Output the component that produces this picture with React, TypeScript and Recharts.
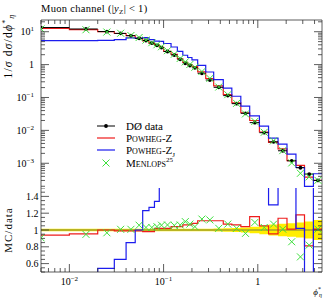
import React from "react";
import { ComposedChart, Line, Scatter, Area, XAxis, YAxis, ErrorBar, Legend } from "recharts";

const FONT = '"Liberation Serif", "DejaVu Serif", serif';
const AXIS = "#333";
const RED = "#ee1c1c";
const BLUE = "#1c1cee";
const GREEN = "#3de03d";

// phi*_eta bin edges (first bin starts at 0, last one runs to the frame)
const binEdges = [0, 0.01, 0.02, 0.03, 0.04, 0.05, 0.06, 0.07, 0.08, 0.09, 0.1,
  0.12, 0.14, 0.16, 0.18, 0.2, 0.23, 0.28, 0.34, 0.43, 0.53, 0.66, 0.82, 1.04,
  1.3, 1.64, 2.04, 2.54, 3.13, 3.89, 4.8];

// 1/sigma dsigma/dphi*, D0 data
const d0Data = [13.4, 12.1, 10.1, 8.9, 7.6, 6.3, 5.4, 4.5, 3.86, 3.3, 2.5, 1.96,
  1.45, 1.1, 0.94, 0.8, 0.544, 0.34, 0.204, 0.114, 0.065, 0.033, 0.0172, 0.0085,
  0.0045, 0.0024, 0.00119, 0.00073, 0.00047, 0.0003];
const d0RelErr = [0.015, 0.015, 0.015, 0.015, 0.015, 0.015, 0.015, 0.015, 0.015,
  0.015, 0.015, 0.015, 0.015, 0.015, 0.015, 0.015, 0.015, 0.015, 0.018, 0.02,
  0.025, 0.03, 0.04, 0.05, 0.065, 0.075, 0.08, 0.09, 0.1, 0.12];

// MC / data
const powhegZRatio = [0.94, 0.955, 1.0, 0.99, 0.99, 0.99, 0.98, 0.98, 1.02, 1.02,
  1.02, 1.04, 1.04, 1.06, 1.06, 1.08, 1.11, 1.11, 1.11, 1.07, 1.06, 1.04, 1.16,
  1.05, 0.955, 1.14, 1.01, 1.18, 0.81, 1.01];
const powhegZjRatio = [0.4, 0.44, 0.543, 0.65, 0.85, 1.0, 1.23, 1.27, 1.34, 1.55,
  1.75, 1.75, 1.75, 1.75, 1.75, 1.75, 1.75, 1.75, 1.72, 1.7, 1.68, 1.65, 1.6,
  1.58, 1.3, 1.6, 1.6, 1.02, 0.42, 1.6];
const menlopsRatio = [0.907, 0.948, 0.967, 1.008, 1.008, 1.057, 1.03, 1.03, 1.04,
  1.057, 1.06, 1.055, 1.06, 1.1, 1.07, 1.04, 1.13, 1.12, 1.02, 1.07, 1.02, 0.96,
  1.09, 1.03, 1.07, 1.01, 0.86, 0.68, 0.82, 1.01];

const xDomain = [0.005, 4.8];
const xDecades = [0.001, 0.01, 0.1, 1];
const yMainDomain = [1.77e-4, 22.7];
const yMainDecades = [1e-4, 1e-3, 1e-2, 1e-1, 1, 10];
const yRatioDomain = [0.5, 1.5];
const yRatioMajor = [0.6, 0.8, 1, 1.2, 1.4];

const logTicks = (decades: number[], dom: number[]) =>
  decades.flatMap((d) => [1, 2, 3, 4, 5, 6, 7, 8, 9].map((m) => +(m * d).toPrecision(3)))
    .filter((v) => v >= dom[0] && v <= dom[1]);
const xTicks = logTicks(xDecades, xDomain);
const yMainTicks = logTicks(yMainDecades, yMainDomain);
const yRatioTicks = Array.from({ length: 21 }, (_, i) => +(0.5 + i * 0.05).toFixed(2));

const isPow10 = (v: number) => Math.abs(Math.log10(v) - Math.round(Math.log10(v))) < 1e-6;
const isRatioMajor = (v: number) => yRatioMajor.some((m) => Math.abs(m - v) < 1e-6);

const lo = (i: number) => Math.max(binEdges[i], xDomain[0]);
const centers = d0Data.map((_, i) => (binEdges[i] + binEdges[i + 1]) / 2);

const stepRows = (vals: number[]) =>
  binEdges.map((_, i) => ({ x: lo(i), y: vals[Math.min(i, vals.length - 1)] }));

const dataRows = d0Data.map((v, i) => ({
  x: centers[i],
  y: v,
  xerr: [centers[i] - lo(i), binEdges[i + 1] - centers[i]],
}));
const powhegZMain = stepRows(d0Data.map((v, i) => v * powhegZRatio[i]));
const powhegZjMain = stepRows(d0Data.map((v, i) => v * powhegZjRatio[i]));
const menlopsMain = d0Data.map((v, i) => ({ x: centers[i], y: v * menlopsRatio[i] }));

const bandRows = binEdges.map((_, i) => {
  const e = d0RelErr[Math.min(i, d0RelErr.length - 1)];
  return { x: lo(i), band: [1 - e, 1 + e] };
});
const dataRatioRows = stepRows(d0Data.map((v) => v / v));
const powhegZRows = stepRows(powhegZRatio);
const powhegZjRows = stepRows(powhegZjRatio);
const menlopsRows = menlopsRatio.map((r, i) => ({ x: centers[i], y: r }));

function LogText({ x, y, v, anchor }: { x: number; y: number; v: number; anchor: "start" | "middle" | "end" }) {
  const e = Math.round(Math.log10(v));
  return (
    <text x={x} y={y} textAnchor={anchor} fontFamily={FONT} fontSize={10} fill="#000">
      {e === 0 ? "1" : (
        <>
          10<tspan dy={-4} fontSize={7}>{e < 0 ? `\u2212${-e}` : `${e}`}</tspan>
        </>
      )}
    </text>
  );
}

type Side = "left" | "right" | "top" | "bottom";
const makeTick = (side: Side, isMajor: (v: number) => boolean, label?: (x: number, y: number, v: number) => React.ReactNode) =>
  (p: any) => {
    const { x, y, payload } = p;
    const v = payload.value;
    const major = isMajor(v);
    const len = major ? 8 : 4;
    const x2 = side === "left" ? x + len : side === "right" ? x - len : x;
    const y2 = side === "top" ? y + len : side === "bottom" ? y - len : y;
    return (
      <g>
        <line x1={x} y1={y} x2={x2} y2={y2} stroke={AXIS} strokeWidth={0.8} />
        {label && major ? label(x, y, v) : null}
      </g>
    );
  };

const axisCommon = {
  type: "number" as const,
  allowDataOverflow: true,
  interval: 0 as const,
  tickSize: 0,
  tickMargin: 0,
  tickLine: false,
  axisLine: { stroke: AXIS, strokeWidth: 0.8 },
};

const Dot = (p: any) => <circle cx={p.cx} cy={p.cy} r={1.9} fill="#000" />;
const Cross = (p: any) => (
  <path
    d={`M${p.cx - 3.5},${p.cy - 3.5}L${p.cx + 3.5},${p.cy + 3.5}M${p.cx - 3.5},${p.cy + 3.5}L${p.cx + 3.5},${p.cy - 3.5}`}
    stroke={GREEN}
    strokeWidth={1}
  />
);

const legendRow = { display: "flex", alignItems: "center", height: 12.3 };
function LegendBox() {
  const icon = (kind: string) => (
    <svg width={20} height={12} style={{ flex: "none" }}>
      {kind === "data" && (
        <>
          <line x1={1} y1={6} x2={19} y2={6} stroke="#000" strokeWidth={1} />
          <circle cx={10} cy={6} r={1.9} fill="#000" />
        </>
      )}
      {kind === "red" && <line x1={1} y1={6} x2={19} y2={6} stroke={RED} strokeWidth={1.2} />}
      {kind === "blue" && <line x1={1} y1={6} x2={19} y2={6} stroke={BLUE} strokeWidth={1.2} />}
      {kind === "x" && <path d="M6.5,2.5L13.5,9.5M6.5,9.5L13.5,2.5" stroke={GREEN} strokeWidth={1} />}
    </svg>
  );
  const txt = { marginLeft: 10, fontFamily: FONT, fontSize: 11, whiteSpace: "nowrap" as const, lineHeight: "12px" };
  const sc = { fontVariant: "small-caps" as const };
  return (
    <div>
      <div style={legendRow}>{icon("data")}<span style={txt}>DØ data</span></div>
      <div style={legendRow}>{icon("red")}<span style={{ ...txt, ...sc }}>Powheg-Z</span></div>
      <div style={legendRow}>{icon("blue")}<span style={{ ...txt, ...sc }}>Powheg-Z<sub style={{ fontSize: 7, lineHeight: 0 }}>J</sub></span></div>
      <div style={legendRow}>{icon("x")}<span style={{ ...txt, ...sc }}>Menlops<sup style={{ fontSize: 7, lineHeight: 0 }}>25</sup></span></div>
    </div>
  );
}

export default function App() {
  const mainYLabel = (x: number, y: number, v: number) => <LogText x={x - 7} y={y + 3.5} v={v} anchor="end" />;
  const xLabel = (x: number, y: number, v: number) => <LogText x={x} y={y + 13} v={v} anchor="middle" />;
  const ratioLabel = (x: number, y: number, v: number) => (
    <text x={x - 2.5} y={y + 3.5} textAnchor="end" fontFamily={FONT} fontSize={10} fill="#000">{String(v)}</text>
  );

  return (
    <div style={{ position: "fixed", left: 0, top: 0, width: 332, height: 300, background: "#fff" }}>
      <ComposedChart width={332} height={188} margin={{ top: 0, right: 0, bottom: 0, left: 0 }}>
        <XAxis {...axisCommon} xAxisId="top" orientation="top" dataKey="x" scale="log" domain={xDomain} ticks={xTicks} height={20} tick={makeTick("top", isPow10)} />
        <XAxis {...axisCommon} xAxisId="m" orientation="bottom" dataKey="x" scale="log" domain={xDomain} ticks={xTicks} height={0} tick={makeTick("bottom", isPow10)} />
        <YAxis {...axisCommon} yAxisId="m" orientation="left" scale="log" domain={yMainDomain} ticks={yMainTicks} width={41} tick={makeTick("left", isPow10, mainYLabel)} />
        <YAxis {...axisCommon} yAxisId="right" orientation="right" scale="log" domain={yMainDomain} ticks={yMainTicks} width={10} tick={makeTick("right", isPow10)} />
        <Line xAxisId="m" yAxisId="m" data={powhegZMain} dataKey="y" type="stepAfter" stroke={RED} strokeWidth={1.2} dot={false} isAnimationActive={false} />
        <Line xAxisId="m" yAxisId="m" data={powhegZjMain} dataKey="y" type="stepAfter" stroke={BLUE} strokeWidth={1.2} dot={false} isAnimationActive={false} />
        <Scatter xAxisId="m" yAxisId="m" data={dataRows} dataKey="y" shape={Dot} isAnimationActive={false}>
          <ErrorBar dataKey="xerr" direction="x" width={0} stroke="#000" strokeWidth={1} />
        </Scatter>
        <Scatter xAxisId="m" yAxisId="m" data={menlopsMain} dataKey="y" shape={Cross} isAnimationActive={false} />
        <Legend layout="vertical" align="center" verticalAlign="middle" wrapperStyle={{ left: 96, top: 119.5, width: 140, height: 50 }} content={() => <LegendBox />} />
      </ComposedChart>
      <ComposedChart width={332} height={112} margin={{ top: 0, right: 0, bottom: 0, left: 0 }}>
        <XAxis {...axisCommon} xAxisId="top" orientation="top" dataKey="x" scale="log" domain={xDomain} ticks={xTicks} height={0} tick={makeTick("top", isPow10)} />
        <XAxis {...axisCommon} xAxisId="r" orientation="bottom" dataKey="x" scale="log" domain={xDomain} ticks={xTicks} height={28} tick={makeTick("bottom", isPow10, xLabel)} />
        <YAxis {...axisCommon} yAxisId="r" orientation="left" domain={yRatioDomain} ticks={yRatioTicks} width={41} tick={makeTick("left", isRatioMajor, ratioLabel)} />
        <YAxis {...axisCommon} yAxisId="right" orientation="right" domain={yRatioDomain} ticks={yRatioTicks} width={10} tick={makeTick("right", isRatioMajor)} />
        <Area xAxisId="r" yAxisId="r" data={bandRows} dataKey="band" type="stepAfter" fill="#ffee00" fillOpacity={1} stroke="none" isAnimationActive={false} />
        <Line xAxisId="r" yAxisId="r" data={dataRatioRows} dataKey="y" type="stepAfter" stroke="#a3a02e" strokeWidth={1.4} dot={false} isAnimationActive={false} />
        <Line xAxisId="r" yAxisId="r" data={powhegZRows} dataKey="y" type="stepAfter" stroke={RED} strokeWidth={1.2} dot={false} isAnimationActive={false} />
        <Line xAxisId="r" yAxisId="r" data={powhegZjRows} dataKey="y" type="stepAfter" stroke={BLUE} strokeWidth={1.2} dot={false} isAnimationActive={false} />
        <Scatter xAxisId="r" yAxisId="r" data={menlopsRows} dataKey="y" shape={Cross} isAnimationActive={false} />
      </ComposedChart>
      <svg width={332} height={300} style={{ position: "absolute", left: 0, top: 0, pointerEvents: "none" }}>
        <text x={41} y={12} fontFamily={FONT} fontSize={10.5} letterSpacing={0.3} fill="#000">
          Muon channel (|<tspan fontStyle="italic">y</tspan><tspan dy={2} fontSize={7}>Z</tspan><tspan dy={-2}>| &lt; 1)</tspan>
        </text>
        <text transform="translate(12,46) rotate(-90)" textAnchor="middle" fontFamily={FONT} fontSize={11.5} letterSpacing={1.2} fill="#000">
          1/<tspan fontStyle="italic">σ</tspan> d<tspan fontStyle="italic">σ</tspan>/d<tspan fontStyle="italic">ϕ</tspan><tspan dy={-4} fontSize={8}>*</tspan><tspan dy={6} fontSize={8} fontStyle="italic">η</tspan>
        </text>
        <text transform="translate(12,230) rotate(-90)" textAnchor="middle" fontFamily={FONT} fontSize={11} letterSpacing={1} fill="#000">
          MC/data
        </text>
        <text x={322} y={295} textAnchor="end" fontFamily={FONT} fontSize={9} fill="#000">
          <tspan fontStyle="italic">ϕ</tspan><tspan dy={-4} fontSize={6}>*</tspan><tspan dx={-2} dy={6} fontSize={6} fontStyle="italic">η</tspan>
        </text>
      </svg>
    </div>
  );
}
